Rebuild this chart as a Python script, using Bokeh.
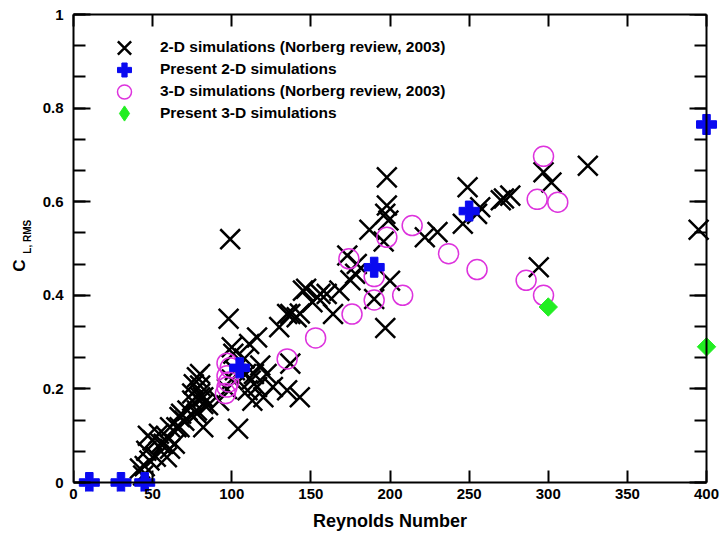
import math
from bokeh.plotting import figure
from bokeh.models import (Range1d, LinearAxis, SingleIntervalTicker, NumeralTickFormatter,
                          CustomJSTickFormatter, Legend, LegendItem, Label)
from bokeh.embed import file_html
from bokeh.resources import INLINE

FONT = "Liberation Sans"

# 2-D simulations (Norberg review, 2003)
re_2d_norberg = [42, 44, 45, 46, 47, 48, 50, 52, 54, 55, 57, 59, 59, 61, 61, 64, 65, 67, 67, 68,
                 70, 72, 75, 75, 76, 78, 78, 78, 80, 80, 80, 80, 82, 82, 82, 85, 92,
                 97, 98, 99, 100, 101, 102, 104, 100, 108, 118,
                 109, 110, 111, 112, 113, 114, 116, 116, 120, 122, 126, 130, 135, 135, 137, 137, 141, 143, 143, 145,
                 147, 151, 154, 156, 160, 164, 168, 173, 175, 178, 179, 187, 190, 197, 196, 197, 198, 198, 199, 200,
                 222, 230, 246, 249, 255, 257, 270, 272, 276, 294, 297, 302, 325, 395]
cl_2d_norberg = [0.03, 0.015, 0.035, 0.068, 0.10, 0.047, 0.09, 0.055, 0.104, 0.083, 0.083, 0.054, 0.097, 0.072, 0.118, 0.083, 0.118, 0.118, 0.14, 0.147,
                 0.132, 0.154, 0.175, 0.19, 0.21, 0.147, 0.154, 0.225, 0.19, 0.207, 0.232, 0.182, 0.118, 0.168, 0.182, 0.165, 0.175,
                 0.20, 0.35, 0.52, 0.289, 0.275, 0.24, 0.115, 0.22, 0.265, 0.25,
                 0.232, 0.197, 0.296, 0.218, 0.175, 0.232, 0.31, 0.204, 0.182, 0.232, 0.204, 0.332, 0.197, 0.36, 0.36, 0.254, 0.353, 0.361, 0.182, 0.41,
                 0.414, 0.385, 0.396, 0.403, 0.403, 0.36, 0.41, 0.485, 0.432, 0.446, 0.467, 0.54, 0.392, 0.33, 0.515, 0.574, 0.652, 0.592, 0.56, 0.431,
                 0.524, 0.535, 0.553, 0.631, 0.574, 0.588, 0.603, 0.607, 0.613, 0.46, 0.663, 0.641, 0.677, 0.54]

# Present 2-D simulations
re_2d_present = [10, 30, 45, 105, 190, 250, 400]
cl_2d_present = [0, 0, 0, 0.245, 0.46, 0.58, 0.765]

# 3-D simulations (Norberg review, 2003)
re_3d_norberg = [96, 97, 98, 97, 99, 97, 135, 153, 176, 174, 190, 190, 208, 198, 214, 237, 255, 286, 297, 293, 306, 297]
cl_3d_norberg = [0.19, 0.204, 0.215, 0.228, 0.245, 0.255, 0.264, 0.309, 0.36, 0.478, 0.44, 0.39, 0.40, 0.524, 0.549, 0.489, 0.455, 0.432, 0.40, 0.605, 0.599, 0.697]

# Present 3-D simulations
re_3d_present = [300, 400]
cl_3d_present = [0.375, 0.29]

legend_labels = ["2-D simulations (Norberg review, 2003)", "Present 2-D simulations",
                 "3-D simulations (Norberg review, 2003)", "Present 3-D simulations"]

X_MIN, X_MAX = 0, 400
Y_MIN, Y_MAX = 0, 1

BOTTOM_BORDER = 44
frame_bottom = 535 - BOTTOM_BORDER

p = figure(width=720, height=535, output_backend="svg", toolbar_location=None,
           x_range=Range1d(0, 408.2), y_range=Range1d(-0.0192, 1),
           min_border_left=73, min_border_right=1, min_border_top=14,
           min_border_bottom=BOTTOM_BORDER)
p.grid.visible = False
p.outline_line_color = None
p.background_fill_color = "white"
p.border_fill_color = "white"


def style(ax, major_in, minor_in):
    ax.axis_line_color = "black"
    ax.axis_line_width = 2
    ax.major_tick_line_color = "black"
    ax.major_tick_line_width = 2
    ax.minor_tick_line_color = "black"
    ax.minor_tick_line_width = 2
    ax.major_tick_in = major_in
    ax.major_tick_out = 0
    ax.minor_tick_in = minor_in
    ax.minor_tick_out = 0
    ax.major_label_text_font = FONT
    ax.major_label_text_font_style = "bold"
    ax.major_label_text_font_size = "15px"
    ax.major_label_text_color = "black"


blank = CustomJSTickFormatter(code="return ''")

# bottom: tick labels only (normal placement)
xb = p.xaxis[0]
xb.ticker = SingleIntervalTicker(interval=50, num_minor_ticks=0)
style(xb, 0, 0)
xb.axis_line_color = None
xb.major_tick_line_color = None
xb.minor_tick_line_color = None
xb.major_label_standoff = -3

# bottom: line and ticks at y = 0
xb_line = LinearAxis(ticker=SingleIntervalTicker(interval=50, num_minor_ticks=0), formatter=blank,
                     bounds=(X_MIN, X_MAX), fixed_location=Y_MIN)
style(xb_line, 12, 0)
xb_line.major_label_standoff = 0
p.add_layout(xb_line, "below")

yl = p.yaxis[0]
yl.ticker = SingleIntervalTicker(interval=0.2, num_minor_ticks=3)
yl.formatter = NumeralTickFormatter(format="0.[0]")
yl.bounds = (Y_MIN, Y_MAX)
style(yl, 17, 12)
yl.major_label_standoff = 10

xt = LinearAxis(ticker=SingleIntervalTicker(interval=50, num_minor_ticks=0), formatter=blank,
                bounds=(X_MIN, X_MAX))
style(xt, 12, 0)
xt.major_label_standoff = 0
p.add_layout(xt, "above")
yr = LinearAxis(ticker=SingleIntervalTicker(interval=0.2, num_minor_ticks=3), formatter=blank,
                bounds=(Y_MIN, Y_MAX), fixed_location=X_MAX)
style(yr, 17, 12)
yr.major_label_standoff = 0
p.add_layout(yr, "right")

r1 = p.scatter(re_2d_norberg, cl_2d_norberg, marker="x", size=28, line_color="black", line_width=2.5)
r3 = p.scatter(re_3d_norberg, cl_3d_norberg, marker="circle", size=20, fill_color=None,
               line_color="#dd33dd", line_width=1.5)
r2 = p.scatter(re_2d_present, cl_2d_present, marker="plus", size=20, fill_color="#0a0af0",
               line_color="#0a0af0")
r4_key = p.scatter(re_3d_present, cl_3d_present, marker="diamond", size=12,
                   fill_color="#22ee22", line_color="#22ee22")
r4 = p.scatter(re_3d_present, cl_3d_present, marker="square", size=13, angle=math.pi / 4,
               fill_color="#22ee22", line_color="#22ee22")

centers = [47, 69, 91, 113]
glyph_h = [47, 35, 35, 38]
rends = [r1, r2, r3, r4_key]
for lab, rend, c, gh in zip(legend_labels, rends, centers, glyph_h):
    lg = Legend(items=[LegendItem(label=lab, renderers=[rend])],
                location=(15, frame_bottom - c - gh / 2), margin=0, padding=0,
                glyph_width=72, glyph_height=gh, label_height=gh, spacing=0, label_standoff=0,
                background_fill_alpha=0, border_line_color=None,
                label_text_font=FONT, label_text_font_style="bold", label_text_font_size="15.5px",
                label_text_color="black")
    p.add_layout(lg, "center")

p.add_layout(Label(x=-34.1, y=0.4637, text="C", angle=math.pi / 2, text_align="center",
                   text_baseline="middle", text_font=FONT, text_font_style="bold",
                   text_font_size="17px", text_color="black"), "left")
p.add_layout(Label(x=-29.1, y=0.489, text="L, RMS", angle=math.pi / 2, text_align="left",
                   text_baseline="middle", text_font=FONT, text_font_style="bold",
                   text_font_size="10px", text_color="black"), "left")
p.add_layout(Label(x=200, y=-0.0812, text="Reynolds Number", text_align="center",
                   text_baseline="middle", text_font=FONT, text_font_style="bold",
                   text_font_size="18px", text_color="black"), "below")

open("out.html", "w").write(file_html(p, INLINE))
